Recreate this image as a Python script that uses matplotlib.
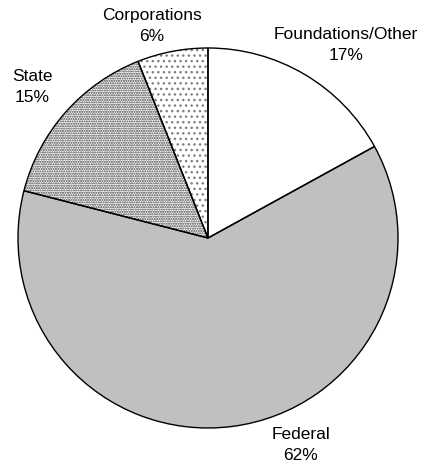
import matplotlib
matplotlib.use("Agg")
import matplotlib.pyplot as plt

plt.rcParams["font.family"] = ["Liberation Sans", "DejaVu Sans"]

# data
sources = ["Foundations/Other", "Federal", "State", "Corporations"]
shares = [17, 62, 15, 6]

# styles
fills = ["white", "#c0c0c0", "white", "white"]
hatches = [None, None, ".......", "..."]
hatch_colors = ["none", "none", "#3c3c3c", "#808080"]
label_pos = [(0.726, 1.016), (0.489, -1.087), (-0.926, 0.797), (-0.295, 1.116)]

fig = plt.figure(figsize=(4.25, 4.67), dpi=100)
ax = fig.add_axes([0, 0, 1, 1])

# fills + dotted hatches
wedges, _ = ax.pie(shares, startangle=90, counterclock=False, colors=fills,
                   radius=1, wedgeprops=dict(linewidth=0))
for w, h, hc in zip(wedges, hatches, hatch_colors):
    if h:
        w.set_edgecolor(hc)
        w.set_linewidth(0)
        w.set_hatch(h)

# outlines
ax.pie(shares, startangle=90, counterclock=False, radius=1,
       wedgeprops=dict(fill=False, linewidth=1.0, edgecolor="black"))

for name, val, (x, y) in zip(sources, shares, label_pos):
    ax.text(x, y, f"{name}\n{val}%", ha="center", va="center",
            fontsize=12.5, linespacing=1.5)

ax.set_xlim(-1.0947, 1.1421)
ax.set_ylim(-1.2053, 1.2526)
ax.set_aspect("auto")
ax.axis("off")

fig.savefig("out.png", dpi=100)
